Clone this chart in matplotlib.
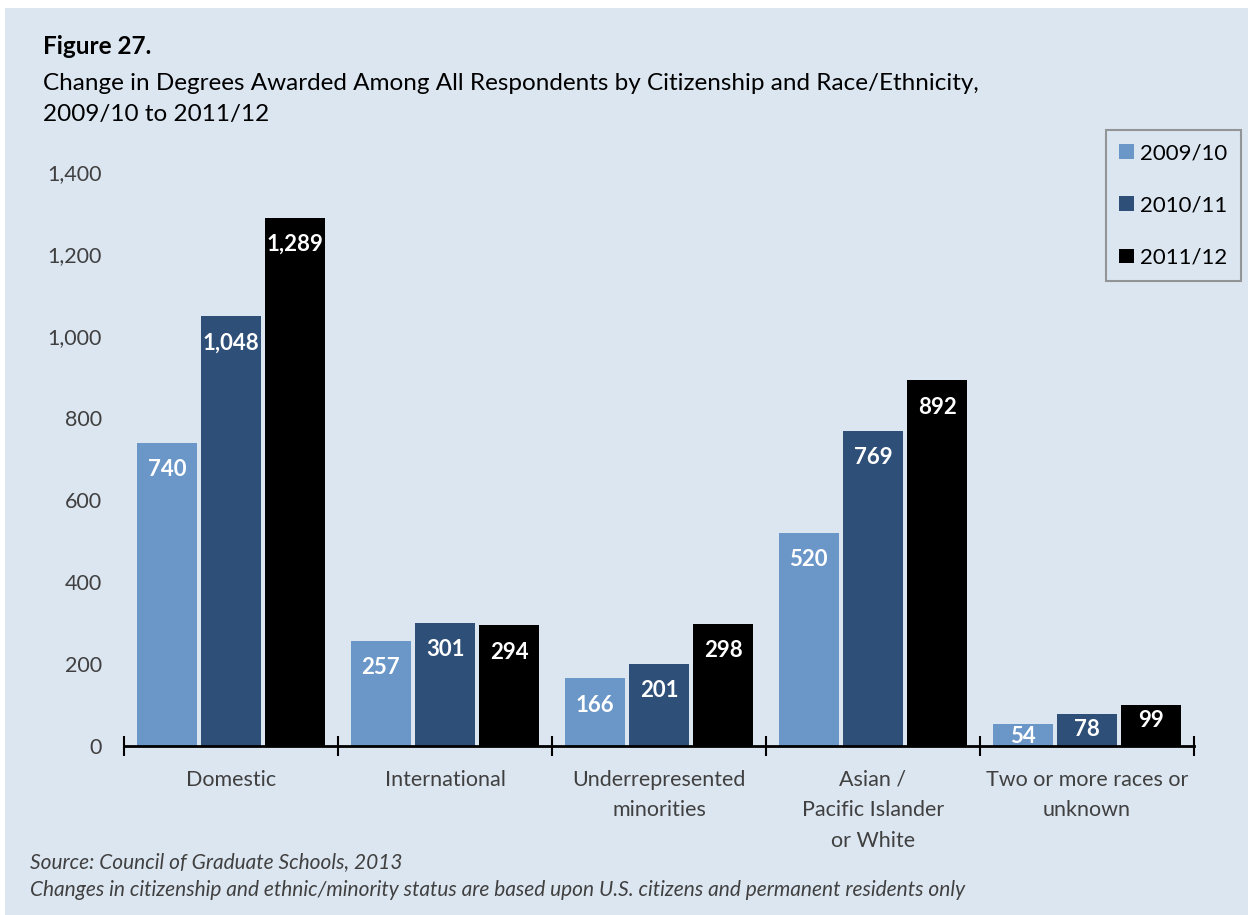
import numpy as np
import matplotlib.pyplot as plt
from matplotlib.patches import Rectangle

categories = ['Domestic', 'International', 'Underrepresented\nminorities',
              'Asian /\nPacific Islander\nor White', 'Two or more races or\nunknown']
years = ['2009/10', '2010/11', '2011/12']
v_2009 = [740, 257, 166, 520, 54]
v_2010 = [1048, 301, 201, 769, 78]
v_2011 = [1289, 294, 298, 892, 99]
colors = ['#6A96C8', '#2D4F78', '#000000']

plt.rcParams['font.family'] = ['Lato', 'DejaVu Sans']
BG = '#DCE6F1'
GREY = '#404040'

fig = plt.figure(figsize=(12.48, 9.15), dpi=100)
fig.patch.set_facecolor('white')
fig.patches.append(Rectangle((5 / 1248, 0), 1, 1 - 8 / 915, transform=fig.transFigure,
                             facecolor=BG, edgecolor='none', zorder=-10))

ax = fig.add_axes([124 / 1248, 1 - 746 / 915, (1194 - 124) / 1248, (746 - 172) / 915])
ax.set_facecolor(BG)
ax.patch.set_alpha(0)

x = np.arange(len(categories))
width = 0.28
offsets = [-0.30, 0.0, 0.30]
for vals, off, col, yr in zip([v_2009, v_2010, v_2011], offsets, colors, years):
    bars = ax.bar(x + off, vals, width, color=col, label=yr, zorder=2)
    for b, v in zip(bars, vals):
        # подпись внутри столбца, у верхнего края
        if v >= 150:
            ly = v - 66
        else:
            ly = max(v - 38, 24)
        ax.text(b.get_x() + b.get_width() / 2, ly, f'{v:,}', ha='center', va='center',
                color='white', fontsize=16, fontweight='bold', zorder=3)

ax.set_xlim(-0.5, len(categories) - 0.5)
ax.set_ylim(0, 1400)
ax.set_yticks(np.arange(0, 1401, 200))
ax.set_yticklabels([f'{int(t):,}' for t in np.arange(0, 1401, 200)])
ax.tick_params(axis='y', length=0, pad=16, labelsize=15.5, labelcolor=GREY)

ax.set_xticks(np.arange(-0.5, len(categories), 1.0))
ax.set_xticklabels([])
ax.set_xticks(x, minor=True)
ax.set_xticklabels(categories, minor=True, fontsize=15.5, color=GREY, linespacing=1.68)
ax.tick_params(axis='x', which='major', direction='inout', length=14, width=1.5, color='black')
ax.tick_params(axis='x', which='minor', length=0, pad=17)

for s in ['top', 'right', 'left']:
    ax.spines[s].set_visible(False)
ax.spines['bottom'].set_linewidth(2)
ax.spines['bottom'].set_color('black')

leg = ax.legend(loc='upper left', bbox_to_anchor=(1106 / 1248, 1 - 130 / 915),
                bbox_transform=fig.transFigure, fontsize=16, frameon=True,
                handlelength=0.65, handleheight=0.65, handletextpad=0.3,
                labelspacing=1.45, borderpad=0.6, borderaxespad=0, fancybox=False)
leg.get_frame().set_facecolor(BG)
leg.get_frame().set_edgecolor('#808080')
leg.get_frame().set_linewidth(1.5)

fig.text(43 / 1248, 1 - 47 / 915, 'Figure 27.', fontsize=17.5, fontweight='bold',
         va='center', ha='left')
fig.text(43 / 1248, 1 - 83 / 915,
         'Change in Degrees Awarded Among All Respondents by Citizenship and Race/Ethnicity,',
         fontsize=17.5, va='center', ha='left')
fig.text(43 / 1248, 1 - 115 / 915, '2009/10 to 2011/12', fontsize=17.5, va='center', ha='left')

fig.text(30 / 1248, 1 - 862 / 915, 'Source: Council of Graduate Schools, 2013',
         fontsize=15, style='italic', color=GREY, va='center', ha='left')
fig.text(30 / 1248, 1 - 890 / 915,
         'Changes in citizenship and ethnic/minority status are based upon U.S. citizens and permanent residents only',
         fontsize=15, style='italic', color=GREY, va='center', ha='left')

fig.savefig('out.png', dpi=100, facecolor=fig.get_facecolor())
